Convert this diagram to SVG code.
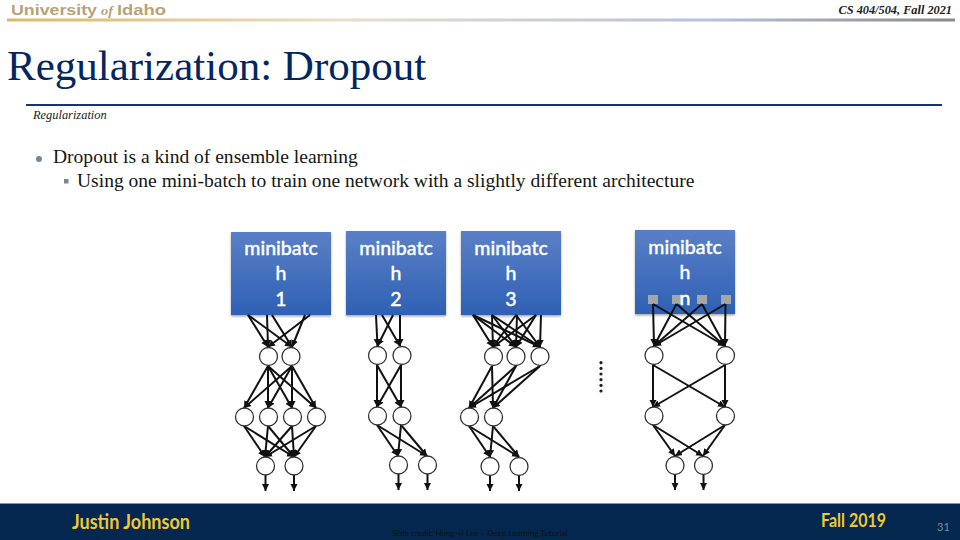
<svg xmlns="http://www.w3.org/2000/svg" width="960" height="540" viewBox="0 0 960 540">
<style>
.serif{font-family:"Liberation Serif","DejaVu Serif",serif}
.box{fill:url(#bg);filter:url(#sh)}
.bt{font-family:Lato,"Open Sans",sans-serif;font-size:19.5px;fill:#fff;stroke:#fff;stroke-width:.35px;text-anchor:middle;font-weight:500}
.n{fill:#fff;stroke:#333;stroke-width:1.3}
.c line{stroke:#111;stroke-width:2;marker-end:url(#a)}
.sq{fill:#a6a6a6}
.body{font-size:19.55px;fill:#151515}
</style>
<defs>
<linearGradient id="bg" x1="0" y1="0" x2="0" y2="1"><stop offset="0" stop-color="#5a80c6"/><stop offset="1" stop-color="#2f60b4"/></linearGradient>
<linearGradient id="gold" x1="0" y1="0" x2="1" y2="0"><stop offset="0" stop-color="#dcb868"/><stop offset=".35" stop-color="#e8dfc8"/><stop offset=".75" stop-color="#b4c0da"/><stop offset="1" stop-color="#888888"/></linearGradient>
<filter id="sh" x="-5%" y="-5%" width="110%" height="112%"><feDropShadow dx="0" dy="1.500" stdDeviation="1.200" flood-color="#000" flood-opacity=".35"/></filter>
<marker id="a" markerUnits="userSpaceOnUse" markerWidth="8" markerHeight="8" refX="7" refY="3.500" orient="auto"><path d="M0 0L7 3.500L0 7Z" fill="#111"/></marker>
</defs>
<rect width="960" height="540" fill="#fff"/>
<g id="header">
<text x="11" y="14.500" font-family="Liberation Sans,sans-serif" font-size="14.500" font-weight="700" fill="#b8a378" textLength="86" lengthAdjust="spacingAndGlyphs">University</text>
<text x="101" y="14.500" class="serif" font-size="13" font-weight="700" font-style="italic" fill="#b8a378" textLength="12" lengthAdjust="spacingAndGlyphs">of</text>
<text x="117" y="14.500" font-family="Liberation Sans,sans-serif" font-size="14.500" font-weight="700" fill="#b8a378" textLength="49" lengthAdjust="spacingAndGlyphs">Idaho</text>
<rect x="7" y="18.500" width="948" height="3" fill="url(#gold)"/>
<text x="952" y="14" class="serif" font-size="12.300" font-weight="700" font-style="italic" text-anchor="end" fill="#222">CS 404/504, Fall 2021</text>
<text x="7" y="80" class="serif" font-size="43" fill="#04265f">Regularization: Dropout</text>
<rect x="26" y="104" width="916" height="2" fill="#16346f"/>
<text x="33" y="119" class="serif" font-size="12.400" font-style="italic" fill="#222">Regularization</text>
</g>
<g id="bullets">
<circle cx="39" cy="159" r="3" fill="#6f8796"/>
<text x="53" y="163" class="serif body">Dropout is a kind of ensemble learning</text>
<rect x="64" y="179" width="4.500" height="4.500" fill="#6f8796"/>
<text x="77" y="187" class="serif body">Using one mini-batch to train one network with a slightly different architecture</text>
</g>
<g id="box1"><rect class="box" x="231" y="232" width="100" height="83"/><text class="bt" x="281" y="255">minibatc</text><text class="bt" x="281" y="280">h</text><text class="bt" x="281" y="306">1</text></g>
<g id="box2"><rect class="box" x="346" y="231" width="100" height="84"/><text class="bt" x="396" y="255">minibatc</text><text class="bt" x="396" y="280">h</text><text class="bt" x="396" y="306">2</text></g>
<g id="box3"><rect class="box" x="461" y="231" width="100" height="84"/><text class="bt" x="511" y="255">minibatc</text><text class="bt" x="511" y="280">h</text><text class="bt" x="511" y="306">3</text></g>
<g id="boxn"><rect class="box" x="635" y="230" width="100" height="84"/>
<rect class="sq" x="648" y="295" width="10" height="9"/><rect class="sq" x="672" y="295" width="9" height="9"/><rect class="sq" x="697" y="295" width="10" height="9"/><rect class="sq" x="721" y="295" width="10" height="9"/>
<text class="bt" x="685" y="254">minibatc</text><text class="bt" x="685" y="279">h</text><text class="bt" x="685" y="305">n</text></g>
<g id="connectors" class="c">
<line x1="248" y1="315" x2="268" y2="347"/><line x1="267" y1="315" x2="268" y2="347"/><line x1="310" y1="315" x2="268" y2="347"/>
<line x1="272" y1="315" x2="292" y2="347"/><line x1="248" y1="315" x2="292" y2="347"/><line x1="305" y1="315" x2="292" y2="347"/>
<line x1="268" y1="366" x2="244" y2="408"/><line x1="268" y1="366" x2="268" y2="408"/><line x1="268" y1="366" x2="292" y2="408"/><line x1="268" y1="366" x2="316" y2="408"/>
<line x1="292" y1="366" x2="244" y2="408"/><line x1="292" y1="366" x2="268" y2="408"/><line x1="292" y1="366" x2="292" y2="408"/><line x1="292" y1="366" x2="316" y2="408"/>
<line x1="244" y1="426" x2="265" y2="457"/><line x1="268" y1="426" x2="265" y2="457"/><line x1="292" y1="426" x2="265" y2="457"/><line x1="316" y1="426" x2="265" y2="457"/>
<line x1="244" y1="426" x2="294" y2="457"/><line x1="268" y1="426" x2="294" y2="457"/><line x1="292" y1="426" x2="294" y2="457"/><line x1="316" y1="426" x2="294" y2="457"/>
<line x1="265.500" y1="475" x2="265.500" y2="491"/><line x1="294" y1="475" x2="294" y2="491"/>
<line x1="376" y1="315" x2="377.500" y2="346"/><line x1="393" y1="315" x2="377.500" y2="346"/><line x1="382" y1="315" x2="400" y2="346"/><line x1="400" y1="315" x2="400" y2="346"/>
<line x1="377" y1="365" x2="377" y2="407"/><line x1="377" y1="365" x2="401" y2="407"/><line x1="401" y1="365" x2="377" y2="407"/><line x1="401" y1="365" x2="401" y2="407"/>
<line x1="377" y1="425" x2="398" y2="456"/><line x1="401" y1="425" x2="398" y2="456"/><line x1="377" y1="425" x2="427" y2="456"/><line x1="401" y1="425" x2="427" y2="456"/>
<line x1="398.500" y1="474" x2="398.500" y2="490"/><line x1="427.500" y1="474" x2="427.500" y2="490"/>
<line x1="473" y1="315" x2="493" y2="347"/><line x1="492" y1="315" x2="493" y2="347"/><line x1="516" y1="315" x2="493" y2="347"/><line x1="536" y1="315" x2="493" y2="347"/>
<line x1="473" y1="315" x2="516" y2="347"/><line x1="492" y1="315" x2="516" y2="347"/><line x1="517" y1="315" x2="516" y2="347"/><line x1="536" y1="315" x2="516" y2="347"/>
<line x1="473" y1="315" x2="540" y2="347"/><line x1="492" y1="315" x2="540" y2="347"/><line x1="516" y1="315" x2="540" y2="347"/><line x1="541" y1="315" x2="540" y2="347"/>
<line x1="492" y1="366" x2="469" y2="408"/><line x1="492" y1="366" x2="493" y2="408"/><line x1="516" y1="366" x2="469" y2="408"/><line x1="516" y1="366" x2="493" y2="408"/><line x1="540" y1="366" x2="469" y2="408"/><line x1="540" y1="366" x2="493" y2="408"/>
<line x1="469" y1="426" x2="490" y2="457"/><line x1="493" y1="426" x2="490" y2="457"/><line x1="469" y1="426" x2="519" y2="457"/><line x1="493" y1="426" x2="519" y2="457"/>
<line x1="490" y1="476" x2="490" y2="491"/><line x1="519" y1="476" x2="519" y2="491"/>
<line x1="653" y1="304" x2="654" y2="346"/><line x1="676.500" y1="304" x2="654" y2="346"/><line x1="702" y1="304" x2="654" y2="346"/><line x1="725.500" y1="304" x2="654" y2="346"/>
<line x1="653" y1="304" x2="725" y2="346"/><line x1="676.500" y1="304" x2="725" y2="346"/><line x1="702" y1="304" x2="725" y2="346"/><line x1="725.500" y1="304" x2="725" y2="346"/>
<line x1="653" y1="365" x2="653" y2="407"/><line x1="653" y1="365" x2="725" y2="407"/><line x1="725" y1="365" x2="653" y2="407"/><line x1="725" y1="365" x2="725" y2="407"/>
<line x1="653" y1="425" x2="675" y2="456"/><line x1="725" y1="425" x2="675" y2="456"/><line x1="653" y1="425" x2="703" y2="456"/><line x1="725" y1="425" x2="703" y2="456"/>
<line x1="675" y1="475" x2="675" y2="490"/><line x1="703.500" y1="475" x2="703.500" y2="490"/>
</g>
<g id="nodes1"><circle class="n" cx="268.500" cy="356.500" r="9"/><circle class="n" cx="291" cy="356.500" r="9"/><circle class="n" cx="244.500" cy="417" r="9"/><circle class="n" cx="268.500" cy="417" r="9"/><circle class="n" cx="292.500" cy="417" r="9"/><circle class="n" cx="316.500" cy="417" r="9"/><circle class="n" cx="265.500" cy="466" r="9"/><circle class="n" cx="294" cy="466" r="9"/></g>
<g id="nodes2"><circle class="n" cx="377.500" cy="355.500" r="9"/><circle class="n" cx="402" cy="355.500" r="9"/><circle class="n" cx="377.500" cy="416" r="9"/><circle class="n" cx="402" cy="416" r="9"/><circle class="n" cx="398.500" cy="465" r="9"/><circle class="n" cx="427.500" cy="465" r="9"/></g>
<g id="nodes3"><circle class="n" cx="493.500" cy="356.500" r="9"/><circle class="n" cx="516" cy="356.500" r="9"/><circle class="n" cx="540" cy="356.500" r="9"/><circle class="n" cx="469.500" cy="417" r="9"/><circle class="n" cx="493.500" cy="417" r="9"/><circle class="n" cx="490" cy="466.500" r="9"/><circle class="n" cx="519" cy="466.500" r="9"/></g>
<g id="nodesn"><circle class="n" cx="654" cy="355.500" r="9"/><circle class="n" cx="725.500" cy="355.500" r="9"/><circle class="n" cx="654" cy="416" r="9"/><circle class="n" cx="725.500" cy="416" r="9"/><circle class="n" cx="675" cy="465.500" r="9"/><circle class="n" cx="703.500" cy="465.500" r="9"/></g>
<g id="dots" fill="#222"><circle cx="601" cy="362.700" r="1.600"/><circle cx="601" cy="368.400" r="1.600"/><circle cx="601" cy="374" r="1.600"/><circle cx="601" cy="379.700" r="1.600"/><circle cx="601" cy="385.400" r="1.600"/><circle cx="601" cy="391" r="1.600"/></g>
<g id="footer">
<rect x="0" y="503" width="960" height="37" fill="#03274f"/>
<rect x="0" y="503" width="960" height="1" fill="#7f99b5"/>
<text x="72" y="529" font-family="Lato,sans-serif" font-size="20" font-weight="700" fill="#f2c832" textLength="118" lengthAdjust="spacingAndGlyphs">Justin Johnson</text>
<text x="821" y="527" font-family="Lato,sans-serif" font-size="18" font-weight="700" fill="#f2c832" textLength="65" lengthAdjust="spacingAndGlyphs">Fall 2019</text>
<text x="937" y="531" font-family="Lato,sans-serif" font-size="11" fill="#6f8fad">31</text>
<text x="392" y="536" font-family="Lato,sans-serif" font-size="8.100" fill="#111">Slide credit: Hung-yi Lee – Deep Learning Tutorial</text>
</g>
</svg>
